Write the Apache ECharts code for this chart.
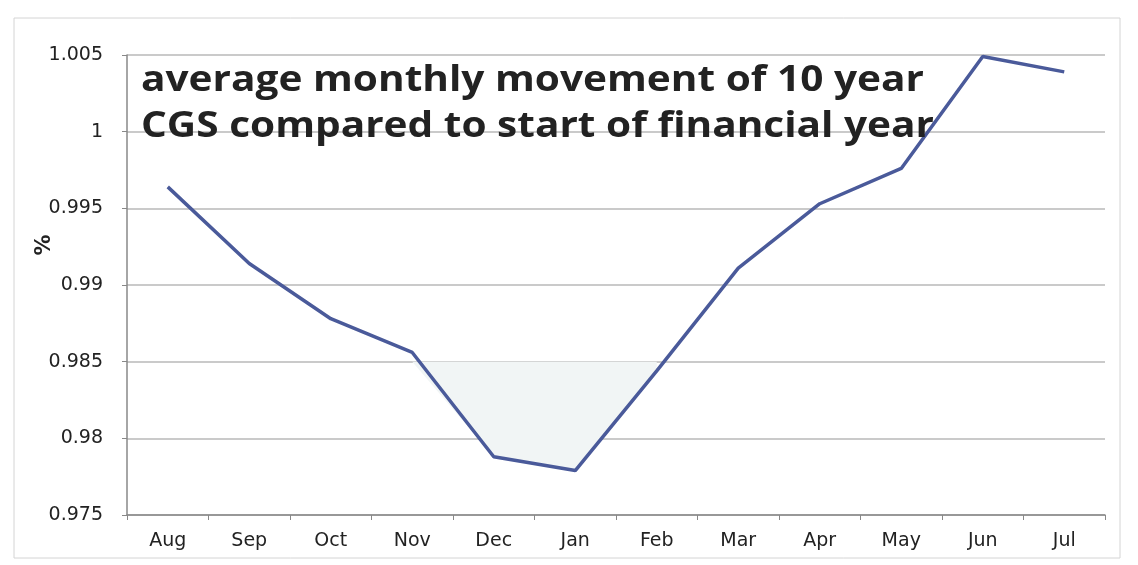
<!DOCTYPE html>
<html><head><meta charset="utf-8">
<script src="https://cdn.jsdelivr.net/npm/echarts@6/dist/echarts.min.js"></script>
<style>html,body{margin:0;padding:0;background:#fff}#c{width:1138px;height:565px}</style>
</head><body><div id="c"></div>
<script>
const months = ['Aug','Sep','Oct','Nov','Dec','Jan','Feb','Mar','Apr','May','Jun','Jul'];
const movement = [0.9964,0.9914,0.9878,0.9856,0.9788,0.9779,0.9844,0.9911,0.9953,0.9976,1.0049,1.0039];
const yTicks = [0.975,0.98,0.985,0.99,0.995,1,1.005];
const shadeLevel = 0.985;
const titleLines = ['average monthly movement of 10 year','CGS compared to start of financial year'];
const yAxisTitle = '%';

const titleFont = 'bold 35px "Open Sans"';
const cv = document.createElement('canvas').getContext('2d');
cv.font = titleFont;
const titleScale = 783 / cv.measureText(titleLines[0]).width;

const chart = echarts.init(document.getElementById('c'));
function shadeItem(params, api){
  const pts = [];
  for (let i=0;i<movement.length-1;i++){
    const a = movement[i], b = movement[i+1];
    if (a <= shadeLevel) pts.push(api.coord([i,a]));
    if ((a-shadeLevel)*(b-shadeLevel) < 0){
      const t = (a-shadeLevel)/(a-b);
      pts.push(api.coord([i+t, shadeLevel]));
    }
  }
  const last = movement.length-1;
  if (movement[last] <= shadeLevel) pts.push(api.coord([last, movement[last]]));
  return {type:'polygon', shape:{points:pts}, style:{fill:'#f1f5f5', stroke:null}, z2:0};
}
chart.setOption({
  animation:false,
  grid:{left:127,right:33,top:55,bottom:50},
  graphic:[
    {type:'rect', shape:{x:14,y:18,width:1106,height:540}, style:{fill:null, stroke:'#d4d4d4', lineWidth:1}, z:-10},
    {type:'text', x:141, y:81, scaleX:titleScale, style:{text:titleLines[0], font:titleFont, fill:'#222', verticalAlign:'middle'}, z:10},
    {type:'text', x:141, y:127, scaleX:titleScale, style:{text:titleLines[1], font:titleFont, fill:'#222', verticalAlign:'middle'}, z:10},
    {type:'text', x:45, y:245, rotation:Math.PI/2, style:{text:yAxisTitle, font:'bold 21px "DejaVu Sans"', fill:'#222', align:'center', verticalAlign:'middle'}, z:10}
  ],
  xAxis:{type:'category', data:months, boundaryGap:true,
    axisLine:{lineStyle:{color:'#888',width:1.5}}, axisTick:{show:true,lineStyle:{color:'#888'}},
    axisLabel:{color:'#222', fontSize:19, fontFamily:'DejaVu Sans', margin:17}},
  yAxis:{type:'value', min:0.975, max:1.005, interval:0.005,
    axisLine:{show:true,lineStyle:{color:'#888',width:1.5}}, axisTick:{show:true,lineStyle:{color:'#888'}},
    splitLine:{lineStyle:{color:'#b8b8b8',width:1.5}},
    axisLabel:{color:'#222', fontSize:19, fontFamily:'DejaVu Sans', margin:24,
      formatter:v=>{const m = yTicks.find(t=>Math.abs(t-v)<1e-9); return m===undefined? '' : String(m);}}},
  series:[
    {type:'custom', renderItem:shadeItem, data:[[0,0]], z:1, silent:true},
    {type:'line', data:movement, symbol:'none', z:3, lineStyle:{color:'#4a5a9a', width:3.5}}
  ]
});
</script></body></html>
